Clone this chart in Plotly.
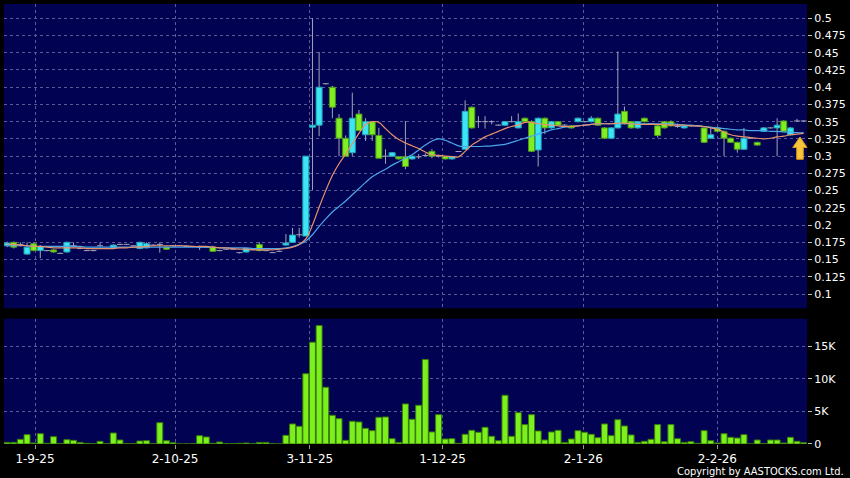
import plotly.graph_objects as go

# ---------------- data ----------------
idx = list(range(121))

opens = [0.170, 0.175, 0.172, 0.158, 0.173, 0.163, 0.163, 0.164, 0.159, 0.161,
         0.170, 0.166, 0.163, 0.163, 0.170, 0.166, 0.167, 0.172, 0.172, 0.170,
         0.166, 0.167, 0.171, 0.172, 0.168, 0.170, 0.170, 0.169, 0.169, 0.168,
         0.168, 0.168, 0.163, 0.165, 0.165, 0.160, 0.161, 0.165, 0.172, 0.163,
         0.160, 0.162, 0.171, 0.175, 0.186, 0.184, 0.342, 0.345, 0.405, 0.400,
         0.355, 0.326, 0.305, 0.361, 0.331, 0.350, 0.330, 0.300, 0.300, 0.299,
         0.299, 0.296, 0.299, 0.301, 0.307, 0.300, 0.2995, 0.296, 0.3067, 0.310,
         0.371, 0.350, 0.350, 0.350, 0.345, 0.345, 0.350, 0.341, 0.355, 0.350,
         0.309, 0.355, 0.341, 0.350, 0.345, 0.344, 0.350, 0.350, 0.350, 0.355,
         0.341, 0.326, 0.341, 0.365, 0.350, 0.341, 0.355, 0.347, 0.344, 0.350,
         0.350, 0.343, 0.341, 0.344, 0.344, 0.341, 0.326, 0.341, 0.336, 0.326,
         0.320, 0.310, 0.326, 0.320, 0.336, 0.341, 0.341, 0.351, 0.331, 0.351,
         0.351]
closes = [0.174, 0.168, 0.172, 0.168, 0.163, 0.169, 0.163, 0.161, 0.159, 0.175,
          0.170, 0.166, 0.163, 0.163, 0.170, 0.166, 0.171, 0.172, 0.172, 0.170,
          0.175, 0.173, 0.171, 0.172, 0.165, 0.170, 0.170, 0.169, 0.169, 0.168,
          0.168, 0.162, 0.163, 0.165, 0.165, 0.160, 0.166, 0.165, 0.163, 0.163,
          0.160, 0.162, 0.174, 0.1855, 0.186, 0.300, 0.345, 0.400, 0.405, 0.371,
          0.326, 0.300, 0.355, 0.337, 0.350, 0.331, 0.297, 0.300, 0.305, 0.296,
          0.285, 0.300, 0.299, 0.301, 0.300, 0.300, 0.296, 0.299, 0.3067, 0.365,
          0.341, 0.350, 0.350, 0.350, 0.345, 0.350, 0.350, 0.350, 0.350, 0.307,
          0.355, 0.341, 0.350, 0.345, 0.345, 0.341, 0.355, 0.350, 0.355, 0.345,
          0.326, 0.341, 0.361, 0.347, 0.341, 0.350, 0.350, 0.347, 0.330, 0.341,
          0.344, 0.343, 0.344, 0.344, 0.344, 0.320, 0.331, 0.336, 0.326, 0.320,
          0.310, 0.326, 0.326, 0.316, 0.341, 0.341, 0.345, 0.336, 0.341, 0.351,
          0.351]
highs = [0.176, 0.176, 0.175, 0.175, 0.175, 0.171, 0.164, 0.165, 0.160, 0.176,
         0.175, 0.167, 0.164, 0.164, 0.175, 0.167, 0.172, 0.173, 0.172, 0.171,
         0.176, 0.175, 0.172, 0.175, 0.169, 0.171, 0.170, 0.170, 0.169, 0.170,
         0.169, 0.170, 0.164, 0.165, 0.166, 0.161, 0.167, 0.166, 0.175, 0.164,
         0.161, 0.163, 0.187, 0.196, 0.196, 0.300, 0.500, 0.451, 0.406, 0.402,
         0.361, 0.330, 0.392, 0.367, 0.355, 0.351, 0.341, 0.310, 0.306, 0.300,
         0.351, 0.301, 0.303, 0.304, 0.310, 0.302, 0.300, 0.300, 0.307, 0.381,
         0.372, 0.358, 0.358, 0.352, 0.346, 0.351, 0.358, 0.362, 0.356, 0.352,
         0.356, 0.356, 0.351, 0.351, 0.346, 0.345, 0.356, 0.351, 0.358, 0.356,
         0.342, 0.342, 0.452, 0.372, 0.351, 0.351, 0.356, 0.348, 0.345, 0.351,
         0.352, 0.347, 0.345, 0.345, 0.345, 0.342, 0.341, 0.342, 0.337, 0.327,
         0.321, 0.341, 0.326, 0.321, 0.342, 0.342, 0.355, 0.352, 0.342, 0.354,
         0.352]
lows = [0.168, 0.166, 0.169, 0.157, 0.162, 0.152, 0.162, 0.160, 0.158, 0.160,
        0.168, 0.165, 0.163, 0.162, 0.169, 0.166, 0.166, 0.171, 0.171, 0.170,
        0.165, 0.166, 0.170, 0.160, 0.164, 0.169, 0.170, 0.169, 0.168, 0.164,
        0.167, 0.161, 0.162, 0.164, 0.165, 0.159, 0.160, 0.164, 0.162, 0.162,
        0.160, 0.161, 0.170, 0.174, 0.182, 0.184, 0.251, 0.329, 0.404, 0.355,
        0.300, 0.300, 0.300, 0.337, 0.322, 0.322, 0.297, 0.289, 0.299, 0.295,
        0.281, 0.295, 0.296, 0.300, 0.297, 0.298, 0.295, 0.295, 0.306, 0.310,
        0.340, 0.341, 0.340, 0.346, 0.344, 0.344, 0.349, 0.340, 0.349, 0.306,
        0.285, 0.332, 0.340, 0.344, 0.344, 0.340, 0.349, 0.349, 0.349, 0.344,
        0.325, 0.325, 0.340, 0.346, 0.340, 0.340, 0.349, 0.346, 0.327, 0.340,
        0.343, 0.341, 0.340, 0.343, 0.343, 0.319, 0.325, 0.335, 0.300, 0.319,
        0.305, 0.309, 0.326, 0.315, 0.335, 0.340, 0.300, 0.335, 0.330, 0.350,
        0.350]
volume = [250, 250, 720, 1440, 150, 1590, 100, 1130, 50, 670,
          560, 250, 100, 30, 410, 30, 1690, 615, 30, 30,
          460, 510, 30, 3280, 510, 200, 0, 0, 30, 1280,
          1080, 100, 300, 50, 30, 100, 150, 30, 250, 250,
          30, 0, 1330, 3080, 2720, 10800, 15650, 18200, 8720, 4410,
          3900, 560, 3490, 3390, 2410, 2050, 4100, 4150, 820, 250,
          6160, 3800, 5950, 12980, 1850, 4510, 770, 820, 100, 1490,
          2100, 1800, 2570, 1180, 510, 7490, 1180, 4820, 2980, 4510,
          2000, 615, 1850, 2100, 250, 770, 2050, 1800, 1490, 975,
          3080, 1280, 3740, 2770, 1390, 250, 410, 720, 2980, 360,
          2980, 820, 250, 360, 100, 2050, 510, 150, 1590, 1030,
          920, 1440, 0, 615, 50, 615, 615, 150, 1030, 410,
          200]
ma_short = [0.172, 0.172, 0.171, 0.170, 0.169, 0.169, 0.168, 0.167, 0.167, 0.167,
            0.167, 0.167, 0.166, 0.166, 0.166, 0.166, 0.166, 0.167, 0.167, 0.168,
            0.168, 0.169, 0.170, 0.170, 0.170, 0.170, 0.170, 0.170, 0.169, 0.169,
            0.169, 0.168, 0.167, 0.167, 0.166, 0.165, 0.165, 0.164, 0.164, 0.164,
            0.164, 0.165, 0.166, 0.168, 0.172, 0.180, 0.200, 0.226, 0.250, 0.272,
            0.289, 0.303, 0.318, 0.333, 0.346, 0.350, 0.349, 0.340, 0.331, 0.324,
            0.319, 0.315, 0.311, 0.306, 0.302, 0.301, 0.300, 0.2995, 0.299, 0.307,
            0.316, 0.322, 0.328, 0.332, 0.336, 0.340, 0.343, 0.345, 0.349, 0.349,
            0.347, 0.346, 0.345, 0.344, 0.343, 0.343, 0.344, 0.345, 0.346, 0.347,
            0.347, 0.347, 0.348, 0.348, 0.347, 0.346, 0.346, 0.346, 0.346, 0.346,
            0.345, 0.345, 0.345, 0.344, 0.344, 0.343, 0.341, 0.339, 0.335, 0.331,
            0.329, 0.328, 0.327, 0.326, 0.325, 0.326, 0.328, 0.329, 0.331, 0.332,
            0.333]
ma_long = [0.170, 0.170, 0.170, 0.170, 0.169, 0.169, 0.169, 0.169, 0.169, 0.169,
           0.169, 0.169, 0.168, 0.168, 0.168, 0.168, 0.168, 0.168, 0.168, 0.168,
           0.168, 0.168, 0.168, 0.168, 0.168, 0.168, 0.168, 0.168, 0.168, 0.168,
           0.168, 0.168, 0.167, 0.167, 0.167, 0.167, 0.167, 0.166, 0.166, 0.166,
           0.166, 0.166, 0.167, 0.169, 0.172, 0.177, 0.186, 0.198, 0.209, 0.219,
           0.227, 0.235, 0.244, 0.253, 0.262, 0.270, 0.276, 0.281, 0.287, 0.292,
           0.297, 0.302, 0.309, 0.316, 0.322, 0.325, 0.323, 0.319, 0.315, 0.314,
           0.314, 0.314, 0.3145, 0.315, 0.316, 0.317, 0.320, 0.323, 0.326, 0.329,
           0.332, 0.335, 0.338, 0.340, 0.342, 0.343, 0.344, 0.345, 0.346, 0.347,
           0.347, 0.347, 0.347, 0.347, 0.347, 0.347, 0.347, 0.347, 0.347, 0.347,
           0.347, 0.346, 0.345, 0.345, 0.344, 0.343, 0.342, 0.341, 0.340, 0.339,
           0.338, 0.338, 0.337, 0.337, 0.337, 0.336, 0.336, 0.335, 0.335, 0.334,
           0.334]

date_ticks = [4.2, 25.3, 45.6, 65.6, 86.8, 107]
date_labels = ["1-9-25", "2-10-25", "3-11-25", "1-12-25", "2-1-26", "2-2-26"]
price_ticks = [0.1, 0.125, 0.15, 0.175, 0.2, 0.225, 0.25, 0.275, 0.3, 0.325,
               0.35, 0.375, 0.4, 0.425, 0.45, 0.475, 0.5]
price_labels = ["0.1", "0.125", "0.15", "0.175", "0.2", "0.225", "0.25", "0.275", "0.3",
                "0.325", "0.35", "0.375", "0.4", "0.425", "0.45", "0.475", "0.5"]
vol_ticks = [0, 5000, 10000, 15000]
vol_labels = ["0", "5K", "10K", "15K"]

# ---------------- styles ----------------
BG = "#020252"
GRID = "#5a5a96"
CYAN, CYAN_EDGE = "#3ce4f4", "#1aa8bc"
GREEN, GREEN_EDGE = "#80ee22", "#4c9a12"
WICK = "#a4a4b8"
VOL, VOL_EDGE = "#7cf01c", "#3a7d0a"
ORANGE, BLUE = "#e8926c", "#4aa8ea"
FONT = "DejaVu Sans"
BW = 0.9

# ---------------- derive drawing pieces from the data ----------------
wx, wy = [], []
dx, dy = [], []
ux, ub, uh = [], [], []
gx, gb, gh = [], [], []
for i, o, h, l, c in zip(idx, opens, highs, lows, closes):
    top, bot = max(o, c), min(o, c)
    if h > top:
        wx += [i, i, None]; wy += [top, h, None]
    if l < bot:
        wx += [i, i, None]; wy += [l, bot, None]
    if c > o:
        ux.append(i); ub.append(o); uh.append(c - o)
    elif c < o:
        gx.append(i); gb.append(c); gh.append(o - c)
    else:
        dx += [i - BW / 2, i + BW / 2, None]; dy += [o, o, None]

fig = go.Figure()
fig.add_trace(go.Bar(x=ux, y=uh, base=ub, width=BW, marker=dict(color=CYAN, line=dict(color=CYAN_EDGE, width=1)),
                     xaxis="x", yaxis="y", hoverinfo="skip"))
fig.add_trace(go.Bar(x=gx, y=gh, base=gb, width=BW, marker=dict(color=GREEN, line=dict(color=GREEN_EDGE, width=1)),
                     xaxis="x", yaxis="y", hoverinfo="skip"))
fig.add_trace(go.Scatter(x=wx, y=wy, mode="lines", line=dict(color=WICK, width=1), xaxis="x", yaxis="y",
                         hoverinfo="skip"))
fig.add_trace(go.Scatter(x=dx, y=dy, mode="lines", line=dict(color=WICK, width=1), xaxis="x", yaxis="y",
                         hoverinfo="skip"))
fig.add_trace(go.Scatter(x=idx, y=ma_long, mode="lines", line=dict(color=BLUE, width=1.2, shape="spline"),
                         xaxis="x", yaxis="y"))
fig.add_trace(go.Scatter(x=idx, y=ma_short, mode="lines", line=dict(color=ORANGE, width=1.2, shape="spline"),
                         xaxis="x", yaxis="y"))
fig.add_trace(go.Bar(x=idx, y=volume, width=BW, marker=dict(color=VOL, line=dict(color=VOL_EDGE, width=1)),
                     xaxis="x2", yaxis="y2", hoverinfo="skip"))

L, R, T, B = 4, 43, 4, 34
W, H = 850, 478
PW, PH = W - L - R, H - T - B


def px(x):
    return (x - L) / PW


def py(y):
    return (H - B - y) / PH


grid = dict(showgrid=True, gridcolor=GRID, gridwidth=1, griddash="3px,3px", zeroline=False)
fig.update_layout(
    width=W, height=H, margin=dict(l=L, r=R, t=T, b=B),
    paper_bgcolor="black", plot_bgcolor=BG, showlegend=False, barmode="overlay",
    font=dict(family=FONT, color="white"),
    xaxis=dict(domain=[0, 1], anchor="y", range=[-0.47, 120.5], tickvals=date_ticks,
               showticklabels=False, ticks="", showline=False, **grid),
    xaxis2=dict(domain=[0, 1], anchor="y2", matches="x", range=[-0.47, 120.5], tickvals=date_ticks,
                ticktext=date_labels, ticks="outside", ticklen=4, tickcolor="#9a9a9a",
                tickfont=dict(size=12, color="white", family=FONT), showline=False, **grid),
    yaxis=dict(domain=[0.3084, 1], anchor="x", side="right", range=[0.0793, 0.5207],
               tickvals=price_ticks, ticktext=price_labels, ticks="outside", ticklen=4, tickcolor="#bdbdbd",
               tickfont=dict(size=11, color="white", family=FONT), showline=False, **grid),
    yaxis2=dict(domain=[0, 0.2848], anchor="x2", side="right", range=[0, 19260],
                tickvals=vol_ticks, ticktext=vol_labels, ticks="outside", ticklen=4, tickcolor="#bdbdbd",
                tickfont=dict(size=11, color="white", family=FONT), showline=False, **grid),
)

# copyright note
fig.add_annotation(text="Copyright by AASTOCKS.com Ltd.", xref="paper", yref="paper",
                   x=px(846), y=py(471.5), xanchor="right", yanchor="middle", showarrow=False,
                   font=dict(size=11, color="white", family="DejaVu Sans Condensed, DejaVu Sans"))

# yellow marker arrow at the right edge
pts = [(800, 137), (807, 147.5), (803.3, 147.5), (803.3, 159.3), (796.7, 159.3), (796.7, 147.5), (792.7, 147.5)]
path = "M " + " L ".join(f"{px(a):.5f},{py(b):.5f}" for a, b in pts) + " Z"
fig.add_shape(type="path", path=path, xref="paper", yref="paper", fillcolor="#f7c53a",
              line=dict(color="#d8961a", width=1), layer="above")

fig.write_html("out.html", config={"displayModeBar": False},
               post_script="document.body.style.margin='0';document.body.style.background='black';")
